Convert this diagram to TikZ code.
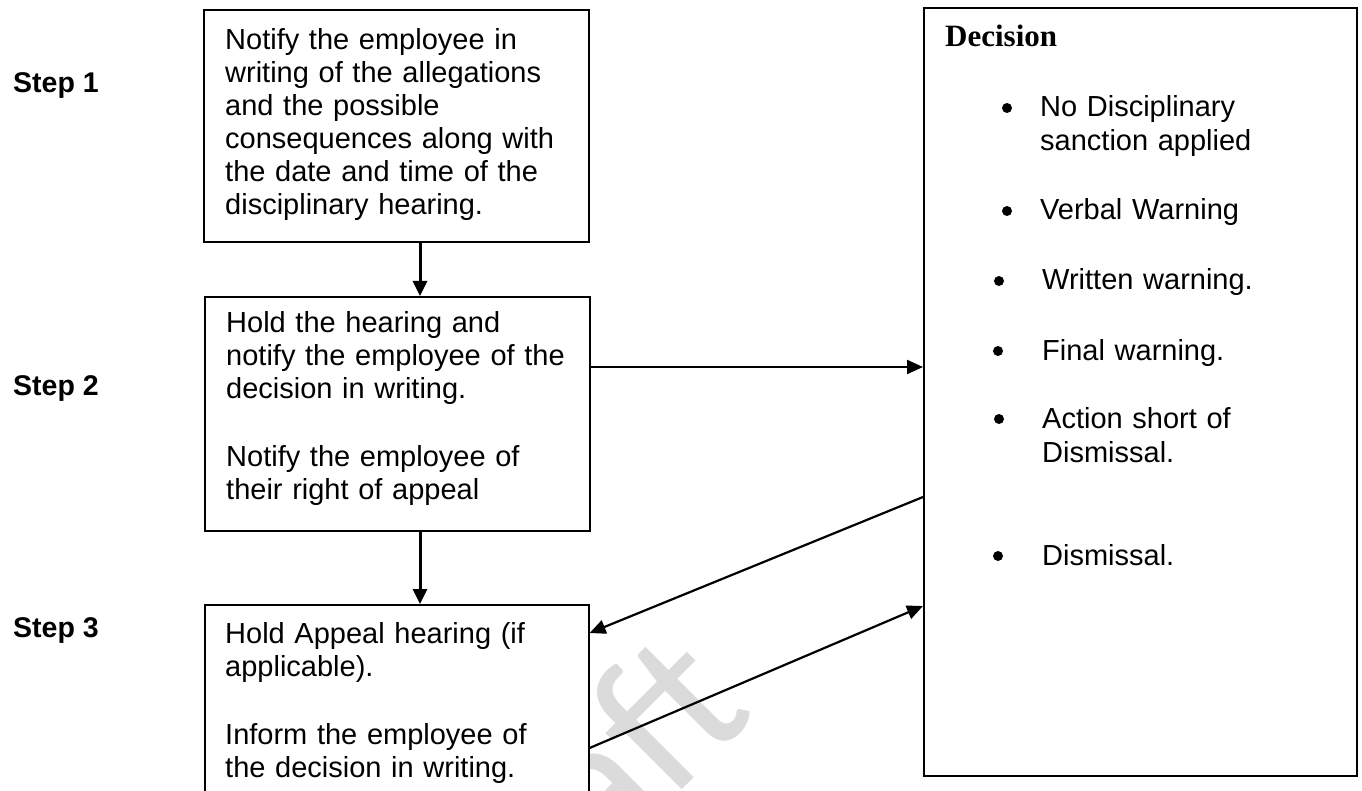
\documentclass[tikz,border=0pt]{standalone}
\usepackage{fontspec}
\setmainfont{Liberation Sans}
\newfontfamily\decfont{Liberation Serif}
\newfontfamily\wmfont{Carlito}
\usetikzlibrary{arrows.meta}
\begin{document}
\begin{tikzpicture}[x=1pt,y=-1pt,
  box/.style={draw,line width=1.6pt,fill=white,anchor=north west,inner sep=0pt},
  txt/.style={anchor=base west,inner sep=0pt,text width=380pt,align=left,font=\fontsize{29}{33}\selectfont},
  steplbl/.style={anchor=base west,inner sep=0pt,font=\bfseries\fontsize{28.5}{33}\selectfont},
  bul/.style={circle,fill=black,inner sep=0pt,minimum size=10pt},
  item/.style={anchor=base west,inner sep=0pt,text width=300pt,align=left,font=\fontsize{29}{34}\selectfont},
  vconn/.style={line width=3pt,-{Triangle[length=15pt,width=14pt]}},
  conn/.style={line width=2.2pt,-{Triangle[length=16pt,width=14pt]}},
  watermark/.style={font=\wmfont\fontsize{200}{200}\selectfont,text=black!14,rotate=45,inner sep=0pt}]
\useasboundingbox (0,0) rectangle (1362,791);
\clip (0,0) rectangle (1362,791);
% watermark
\node[watermark] (wm) at (566,810) {Draft};
% boxes
\node[box,minimum width=385pt,minimum height=232pt] (b1) at (203,9) {};
\node[box,minimum width=385pt,minimum height=234pt] (b2) at (204,296) {};
\node[box,minimum width=384pt,minimum height=240pt] (b3) at (204,604) {};
\node[box,minimum width=433pt,minimum height=768pt] (dec) at (923,7) {};
% step labels
\node[steplbl] (s1) at (13,93) {Step 1};
\node[steplbl] (s2) at (13,395) {Step 2};
\node[steplbl] (s3) at (13,637) {Step 3};
% box texts
\node[txt] (t1) at (225,50) {Notify the employee in\\writing of the allegations\\and the possible\\consequences along with\\the date and time of the\\disciplinary hearing.};
\node[txt] (t2) at (226,333) {Hold the hearing and\\notify the employee of the\\decision in writing.\\[35pt]Notify the employee of\\their right of appeal};
\node[txt] (t3) at (225,643) {Hold Appeal hearing (if\\applicable).\\[35pt]Inform the employee of\\the decision in writing.};
% decision
\node[anchor=base west,inner sep=0pt,font=\decfont\bfseries\fontsize{31}{34}\selectfont] (dt) at (945,47) {Decision};
\node[bul] (p1) at (1007,108) {};
\node[item] (i1) at (1040,117) {No Disciplinary\\sanction applied};
\node[bul] (p2) at (1007,211) {};
\node[item] (i2) at (1040,220) {Verbal Warning};
\node[bul] (p3) at (999,281) {};
\node[item] (i3) at (1042,290) {Written warning.};
\node[bul] (p4) at (998,351) {};
\node[item] (i4) at (1042,360) {Final warning.};
\node[bul] (p5) at (999,419) {};
\node[item] (i5) at (1042,428) {Action short of\\Dismissal.};
\node[bul] (p6) at (998,556) {};
\node[item] (i6) at (1042,565) {Dismissal.};
% helper coordinates
\coordinate (ax) at (420,0);
\coordinate (hy) at (0,367);
\coordinate (da) at (0,497);
\coordinate (ba) at (0,633);
\coordinate (bb) at (0,748);
\coordinate (db) at (0,606);
% connectors
\draw[vconn] (b1.south -| ax) -- (b2.north -| ax);
\draw[vconn] (b2.south -| ax) -- (b3.north -| ax);
\draw[conn] (b2.east |- hy) -- (dec.west |- hy);
\draw[conn] (dec.west |- da) -- (b3.east |- ba);
\draw[conn] (b3.east |- bb) -- (dec.west |- db);
\end{tikzpicture}
\end{document}
